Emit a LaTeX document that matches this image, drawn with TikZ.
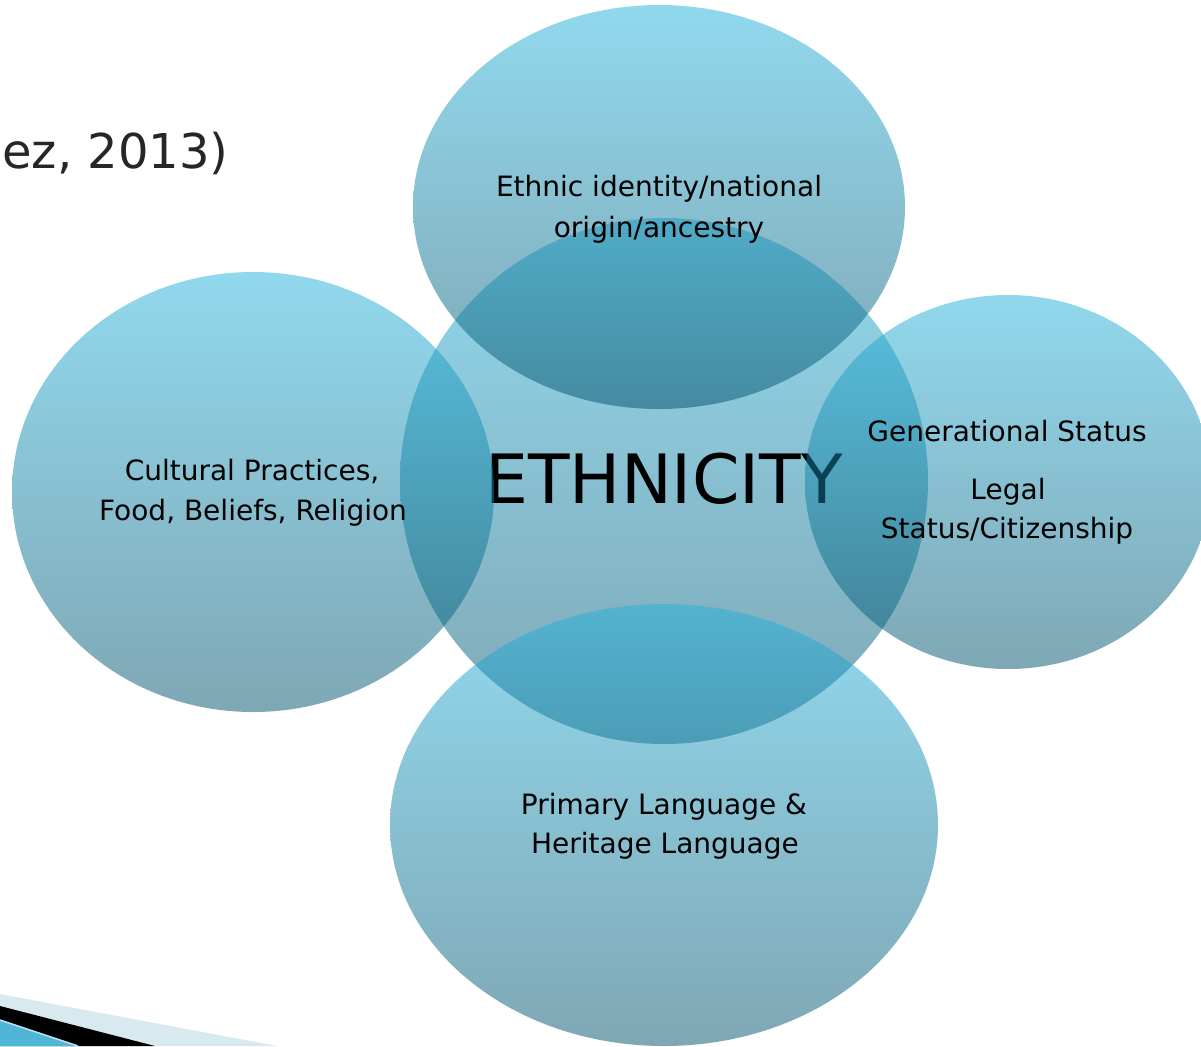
\documentclass[tikz,border=0pt]{standalone}
\usepackage{fontspec}
\setmainfont{DejaVu Sans}
\definecolor{ctop}{RGB}{37,179,221}
\definecolor{cbot}{RGB}{0,81,107}
\definecolor{bandlight}{RGB}{216,234,240}
\definecolor{bandblue}{RGB}{80,182,216}
\definecolor{reftext}{RGB}{38,38,38}
\tikzset{
  bubble/.style={top color=ctop, bottom color=cbot, fill opacity=0.5, draw=none},
  lbl/.style={anchor=base, inner sep=0pt, font=\fontsize{14}{16}\selectfont, text=black},
  big/.style={anchor=base, inner sep=0pt, font=\fontsize{34}{40}\selectfont, text=black}
}
\begin{document}
\begin{tikzpicture}[x=0.5pt,y=-0.5pt]
\clip (0,0) rectangle (1201,1046);
\fill[white] (0,0) rectangle (1201,1046);
% citation fragment
\node[anchor=base west, inner sep=0pt, font=\fontsize{24}{28}\selectfont, text=reftext] (cite) at (2,168) {ez, 2013)};
% bottom-left swoosh
\fill[bandlight] (0,994) -- (277,1046) -- (0,1046) -- cycle;
\fill[black] (0,1006) -- (155,1046) -- (0,1046) -- cycle;
\fill[bandblue] (0,1020) -- (78,1046) -- (0,1046) -- cycle;
\draw[white!60!bandblue, line width=0.8pt] (0,1020) -- (78,1046);
% centre
\shade[bubble] (664,481) ellipse [x radius=132pt, y radius=131.5pt];
\node[big] (eth) at (664,503) {ETHNICITY};
% left
\shade[bubble] (253,492) ellipse [x radius=120.5pt, y radius=110pt];
\node[lbl] (l1) at (252,480) {Cultural Practices,};
\node[lbl] (l2) at (253,520) {Food, Beliefs, Religion};
% top
\shade[bubble] (659,207) ellipse [x radius=123pt, y radius=101pt];
\node[lbl] (t1) at (659,196) {Ethnic identity/national};
\node[lbl] (t2) at (659,237) {origin/ancestry};
% right
\shade[bubble] (1008,482) ellipse [x radius=101.5pt, y radius=93.5pt];
\node[lbl] (r1) at (1007,441) {Generational Status};
\node[lbl] (r2) at (1008,499) {Legal};
\node[lbl] (r3) at (1007,538) {Status/Citizenship};
% bottom
\shade[bubble] (664,825) ellipse [x radius=137pt, y radius=110.5pt];
\node[lbl] (b1) at (664,814) {Primary Language \&};
\node[lbl] (b2) at (665,853) {Heritage Language};
\end{tikzpicture}
\end{document}
